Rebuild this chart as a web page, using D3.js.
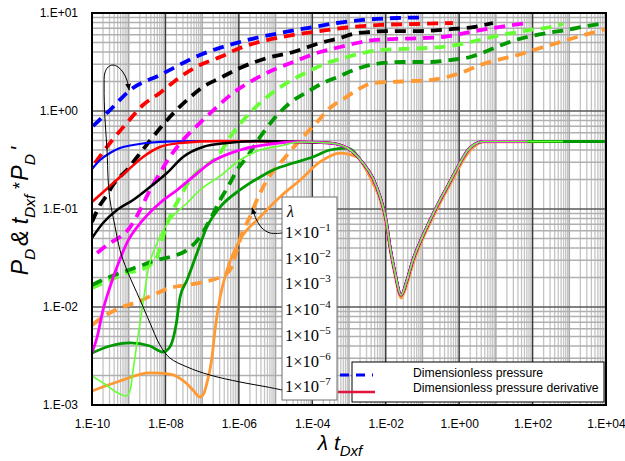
<!DOCTYPE html>
<html><head><meta charset="utf-8">
<script src="https://cdn.jsdelivr.net/npm/d3@7"></script>
<style>body{margin:0;background:#fff}svg{display:block}</style>
</head><body>
<svg id="chart" width="625" height="461"></svg>
<script>
// ---- DATA : points are [log10(lambda*tDxf), log10(value)] ----
const xTickExp = [-10, -8, -6, -4, -2, 0, 2, 4];
const yTickExp = [-3, -2, -1, 0, 1];
const lambdaExp = [-1, -2, -3, -4, -5, -6, -7];
const legendNames = ["Dimensionless pressure", "Dimensionless pressure derivative"];

// Dimensionless pressure (dashed), one array per lambda
const pL1 = [[-9.97,-0.153],[-9.51,0.01],[-8.96,0.214],[-8.15,0.367],[-7.06,0.571],[-5.97,0.704],[-4.88,0.796],[-3.98,0.857],[-3.33,0.898],[-2.62,0.929],[-1.69,0.949],[-1.07,0.954]];
const pL2 = [[-9.92,-0.531],[-9.51,-0.327],[-9.05,-0.122],[-8.61,0.061],[-8.15,0.184],[-7.60,0.347],[-7.06,0.469],[-6.51,0.551],[-5.97,0.643],[-5.23,0.724],[-4.52,0.776],[-3.79,0.816],[-3.05,0.852],[-2.15,0.878],[-1.15,0.888],[-0.17,0.898]];
const pL3 = [[-10,-1.133],[-9.78,-0.959],[-9.59,-0.857],[-9.43,-0.755],[-9.24,-0.673],[-9.05,-0.602],[-8.77,-0.469],[-8.34,-0.265],[-7.88,-0.061],[-7.41,0.112],[-6.98,0.245],[-6.51,0.337],[-5.97,0.439],[-5.23,0.541],[-4.52,0.602],[-3.79,0.694],[-3.24,0.745],[-2.89,0.786],[-2.43,0.806],[-1.96,0.816],[-1.07,0.816],[-0.17,0.837],[0.38,0.857],[0.92,0.898]];
const pL4 = [[-9.86,-1.449],[-9.51,-1.347],[-9.24,-1.286],[-8.96,-1.184],[-8.69,-1.010],[-8.42,-0.806],[-8.15,-0.633],[-7.88,-0.469],[-7.52,-0.296],[-7.06,-0.122],[-6.60,0.041],[-6.16,0.184],[-5.61,0.316],[-5.07,0.418],[-4.52,0.5],[-3.79,0.602],[-3.24,0.653],[-2.78,0.694],[-2.35,0.724],[-1.69,0.735],[-0.98,0.745],[-0.44,0.755],[0.30,0.806],[0.92,0.847],[1.47,0.878],[1.85,0.898]];
const pL5 = [[-10,-1.806],[-9.51,-1.724],[-9.05,-1.653],[-8.69,-1.622],[-8.42,-1.571],[-8.23,-1.490],[-8.07,-1.286],[-7.88,-1.082],[-7.60,-0.878],[-7.33,-0.704],[-7.06,-0.602],[-6.60,-0.469],[-6.16,-0.224],[-5.70,-0.020],[-5.23,0.143],[-4.69,0.286],[-4.14,0.398],[-3.60,0.490],[-3.05,0.551],[-2.62,0.592],[-2.15,0.622],[-1.53,0.633],[-0.87,0.643],[-0.25,0.663],[0.30,0.704],[0.76,0.745],[1.30,0.786],[1.93,0.827],[2.48,0.857],[2.83,0.888]];
const pL6 = [[-10,-1.776],[-9.59,-1.704],[-9.16,-1.643],[-8.77,-1.592],[-8.23,-1.520],[-7.88,-1.490],[-7.41,-1.418],[-7.06,-1.286],[-6.79,-1.112],[-6.51,-0.908],[-6.24,-0.735],[-6.05,-0.602],[-5.78,-0.469],[-5.42,-0.265],[-5.07,-0.092],[-4.61,0.082],[-4.14,0.194],[-3.71,0.286],[-3.24,0.357],[-3.05,0.390],[-2.62,0.449],[-2.07,0.490],[-1.53,0.5],[-0.79,0.5],[-0.25,0.520],[0.30,0.551],[0.76,0.612],[1.30,0.694],[1.85,0.755],[2.39,0.796],[2.94,0.827],[3.48,0.867],[4.0,0.898]];
const pL7 = [[-10,-2.184],[-9.70,-2.102],[-9.24,-2.010],[-8.77,-1.949],[-8.34,-1.878],[-7.88,-1.806],[-7.41,-1.776],[-6.98,-1.745],[-6.51,-1.694],[-6.24,-1.622],[-6.05,-1.418],[-5.91,-1.245],[-5.70,-1.082],[-5.51,-0.908],[-5.23,-0.704],[-4.80,-0.5],[-4.33,-0.296],[-3.87,-0.112],[-3.52,0.031],[-3.11,0.133],[-2.78,0.214],[-2.35,0.286],[-1.88,0.296],[-1.26,0.306],[-0.79,0.316],[-0.33,0.347],[0.11,0.398],[0.57,0.469],[1.03,0.520],[1.58,0.571],[2.12,0.633],[2.67,0.694],[3.21,0.755],[4.0,0.837]];

// Dimensionless pressure derivative (solid): early part per lambda + common late part
const dL1 = [[-10,-0.592],[-9.78,-0.5],[-9.51,-0.429],[-9.24,-0.378],[-8.88,-0.347],[-8.15,-0.316],[-7.06,-0.306]];
const dL2 = [[-10,-0.929],[-9.51,-0.765],[-9.02,-0.602],[-8.61,-0.469],[-8.15,-0.367],[-7.60,-0.327],[-6.51,-0.306]];
const dL3 = [[-10,-1.296],[-9.70,-1.143],[-9.32,-1.010],[-8.88,-0.908],[-8.42,-0.776],[-7.96,-0.633],[-7.52,-0.469],[-6.98,-0.367],[-6.32,-0.327],[-5.42,-0.306]];
const dL4 = [[-10,-2.469],[-9.86,-2.306],[-9.70,-2.031],[-9.51,-1.796],[-9.32,-1.592],[-9.05,-1.347],[-8.61,-1.112],[-8.15,-0.939],[-7.68,-0.806],[-7.25,-0.673],[-6.79,-0.531],[-5.97,-0.398],[-5.15,-0.337]];
const dL5 = [[-10,-2.704],[-9.65,-2.786],[-9.29,-2.878],[-9.07,-2.908],[-8.96,-2.847],[-8.88,-2.643],[-8.75,-2.306],[-8.61,-1.959],[-8.47,-1.622],[-8.23,-1.347],[-7.88,-1.112],[-7.41,-0.939],[-7.06,-0.806],[-6.51,-0.663],[-5.97,-0.5],[-5.42,-0.398],[-4.88,-0.357]];
const dL6 = [[-10,-2.469],[-9.51,-2.398],[-8.96,-2.367],[-8.42,-2.398],[-8.07,-2.459],[-7.88,-2.408],[-7.71,-2.184],[-7.60,-1.898],[-7.41,-1.724],[-7.14,-1.449],[-6.87,-1.184],[-6.51,-0.980],[-5.97,-0.806],[-5.42,-0.673],[-5.07,-0.602],[-4.52,-0.531],[-3.98,-0.469],[-3.52,-0.398]];
const dL7 = [[-10,-2.857],[-9.24,-2.755],[-8.42,-2.673],[-7.88,-2.684],[-7.47,-2.765],[-7.25,-2.847],[-7.06,-2.918],[-6.95,-2.878],[-6.87,-2.776],[-6.73,-2.510],[-6.65,-2.235],[-6.51,-1.898],[-6.32,-1.622],[-5.97,-1.316],[-5.42,-1.082],[-4.88,-0.878],[-4.33,-0.704],[-3.79,-0.520],[-3.24,-0.429],[-2.78,-0.469],[-2.56,-0.582],[-2.35,-0.735],[-2.15,-0.908],[-1.99,-1.153],[-1.88,-1.418],[-1.75,-1.673],[-1.58,-1.908],[-1.42,-1.765],[-1.26,-1.561],[-1.04,-1.347],[-0.79,-1.143],[-0.52,-0.939],[-0.33,-0.806],[-0.11,-0.653],[0.02,-0.561],[0.24,-0.429],[0.43,-0.357],[0.65,-0.316],[4.0,-0.311]];
const dTail = [[-4.33,-0.316],[-3.52,-0.327],[-3.05,-0.378],[-2.62,-0.531],[-2.35,-0.684],[-2.15,-0.878],[-1.99,-1.112],[-1.88,-1.388],[-1.75,-1.643],[-1.58,-1.878],[-1.42,-1.724],[-1.26,-1.520],[-1.04,-1.316],[-0.79,-1.112],[-0.52,-0.908],[-0.33,-0.776],[-0.11,-0.622],[0.02,-0.531],[0.24,-0.398],[0.43,-0.337],[0.65,-0.311],[4.0,-0.311]];

// leader lines of the lambda note
const noteLong = [[-4.82,-2.847],[-5.23,-2.816],[-5.97,-2.765],[-6.79,-2.694],[-7.41,-2.612],[-7.88,-2.520],[-8.15,-2.388],[-8.42,-2.163],[-8.69,-1.929],[-9.05,-1.622],[-9.24,-1.418],[-9.37,-1.184],[-9.51,-0.908],[-9.56,-0.704],[-9.59,-0.398],[-9.65,-0.061],[-9.67,0.245],[-9.65,0.388],[-9.56,0.449],[-9.43,0.469],[-9.29,0.449],[-9.16,0.398],[-9.05,0.316],[-8.99,0.214]];
const noteShort = [[-4.82,-1.245],[-5.15,-1.245],[-5.37,-1.194],[-5.53,-1.102],[-5.64,-0.990]];

// ---- STYLE ----
const colors = ["#0000ff","#ff0000","#000000","#ff00ff","#66ff33","#009900","#ff9933"];
const derivWidths = [2.2,2.5,2.5,2.8,1.6,2.8,2.8];
const pressures = [pL1,pL2,pL3,pL4,pL5,pL6,pL7];
const derivEarly = [dL1,dL2,dL3,dL4,dL5,dL6,dL7];

const svg = d3.select("#chart");
const W = 625, H = 461;
const m = {l:92, r:19, t:13, b:56};
const x = d3.scaleLog().domain([1e-10,1e4]).range([m.l, W-m.r]);
const y = d3.scaleLog().domain([1e-3,1e1]).range([H-m.b, m.t]);
const P = v => Math.pow(10, v);

const defs = svg.append("defs");
defs.append("clipPath").attr("id","plot").append("rect")
  .attr("x",m.l).attr("y",m.t).attr("width",W-m.l-m.r).attr("height",H-m.t-m.b);
defs.append("marker").attr("id","arr").attr("viewBox","0 0 10 10").attr("refX",9).attr("refY",5)
  .attr("markerWidth",7).attr("markerHeight",7).attr("orient","auto")
  .append("path").attr("d","M0,1 L10,5 L0,9 Z").attr("fill","#000");

// grid
const grid = svg.append("g");
const xMinor = [], yMinor = [];
for (let e=-10; e<4; e++) for (let k=2; k<10; k++) xMinor.push(k*P(e));
for (let e=-3; e<1; e++) for (let k=2; k<10; k++) yMinor.push(k*P(e));
grid.selectAll(".vm").data(xMinor).join("line")
  .attr("x1",d=>x(d)).attr("x2",d=>x(d)).attr("y1",m.t).attr("y2",H-m.b)
  .attr("stroke","#c4c4c4").attr("stroke-width",1.3);
grid.selectAll(".hm").data(yMinor).join("line")
  .attr("y1",d=>y(d)).attr("y2",d=>y(d)).attr("x1",m.l).attr("x2",W-m.r)
  .attr("stroke","#b0b0b0").attr("stroke-width",1.4);
const xDec = d3.range(-10,5);
grid.selectAll(".vd").data(xDec).join("line")
  .attr("x1",d=>x(P(d))).attr("x2",d=>x(P(d))).attr("y1",m.t).attr("y2",H-m.b)
  .attr("stroke",d=> d%2===0 ? "#3a3a3a" : "#a8a8a8").attr("stroke-width",1.5);
grid.selectAll(".hd").data(yTickExp).join("line")
  .attr("y1",d=>y(P(d))).attr("y2",d=>y(P(d))).attr("x1",m.l).attr("x2",W-m.r)
  .attr("stroke","#595959").attr("stroke-width",1.6);

// tick labels
const fmt = e => "1.E" + (e<0?"-":"+") + String(Math.abs(e)).padStart(2,"0");
const ax = svg.append("g").attr("transform",`translate(0,${H-m.b})`)
  .call(d3.axisBottom(x).tickValues(xTickExp.map(P)).tickFormat(d=>fmt(Math.round(Math.log10(d)))).tickSize(0).tickPadding(14));
const ay = svg.append("g").attr("transform",`translate(${m.l},0)`)
  .call(d3.axisLeft(y).tickValues(yTickExp.map(P)).tickFormat(d=>fmt(Math.round(Math.log10(d)))).tickSize(0).tickPadding(14));
[ax,ay].forEach(g=>{g.select(".domain").remove(); g.selectAll("text").attr("font-family","Liberation Sans, Arial, sans-serif").attr("font-size",12).attr("fill","#000");});

// curves
const line = d3.line().x(d=>x(P(d[0]))).y(d=>y(P(d[1]))).curve(d3.curveMonotoneX);
const plot = svg.append("g").attr("clip-path","url(#plot)");
pressures.forEach((pts,i)=>{
  plot.append("path").attr("d",line(pts)).attr("fill","none").attr("stroke",colors[i])
    .attr("stroke-width",3.8).attr("stroke-dasharray","11,7");
});
// derivative curves: each ends where its pressure curve ends
const derivOrder = [6,5,0,1,2,3,4];
derivOrder.forEach(i=>{
  const endX = pressures[i][pressures[i].length-1][0];
  const early = derivEarly[i];
  const lastX = early[early.length-1][0];
  const pts = i===6 ? early : early.concat(dTail.filter(p=>p[0]>lastX));
  const cid = "dc"+i;
  defs.append("clipPath").attr("id",cid).append("rect")
    .attr("x",m.l).attr("y",m.t).attr("width",x(P(endX))-m.l).attr("height",H-m.t-m.b);
  plot.append("g").attr("clip-path",`url(#${cid})`).append("path").attr("d",line(pts))
    .attr("fill","none").attr("stroke",colors[i]).attr("stroke-width",derivWidths[i]);
});

// frame
svg.append("rect").attr("x",m.l).attr("y",m.t).attr("width",W-m.l-m.r).attr("height",H-m.t-m.b)
  .attr("fill","none").attr("stroke","#000").attr("stroke-width",2);

// lambda note box
const bx = 282, by = 197, bw = 55, bh = 203;
svg.append("rect").attr("x",bx).attr("y",by).attr("width",bw).attr("height",bh)
  .attr("fill","#fff").attr("stroke","#6e6e6e").attr("stroke-width",1);
svg.append("text").attr("x",bx+5).attr("y",by+20).attr("font-family","Liberation Serif, Times New Roman, serif")
  .attr("font-style","italic").attr("font-size",16).text("λ");
lambdaExp.forEach((e,i)=>{
  const t = svg.append("text").attr("x",bx+3).attr("y",by+41+i*25.7)
    .attr("font-family","Liberation Serif, Times New Roman, serif").attr("font-size",16.5);
  t.append("tspan").text("1×10");
  t.append("tspan").attr("dy",-7).attr("font-size",11).text("−" + Math.abs(e));
});

// leader lines
const nline = d3.line().x(d=>x(P(d[0]))).y(d=>y(P(d[1]))).curve(d3.curveCatmullRom.alpha(0.5));
svg.append("path").attr("d",nline(noteLong)).attr("fill","none").attr("stroke","#000").attr("stroke-width",1).attr("marker-end","url(#arr)");
svg.append("path").attr("d",nline(noteShort)).attr("fill","none").attr("stroke","#000").attr("stroke-width",1).attr("marker-end","url(#arr)");

// series legend
const lx = 352, ly = 362;
svg.append("rect").attr("x",lx).attr("y",ly).attr("width",252).attr("height",40)
  .attr("fill","#fff").attr("stroke","#000").attr("stroke-width",1);
svg.append("line").attr("x1",338).attr("x2",373).attr("y1",375).attr("y2",375)
  .attr("stroke","#0000ff").attr("stroke-width",3).attr("stroke-dasharray","9,7").attr("stroke-dashoffset",-2);
svg.append("line").attr("x1",338).attr("x2",375).attr("y1",392).attr("y2",392)
  .attr("stroke","#e0143c").attr("stroke-width",2.5);
legendNames.forEach((n,i)=>{
  svg.append("text").attr("x",413).attr("y",377+i*15).attr("font-family","Liberation Sans, Arial, sans-serif")
    .attr("font-size",12.2).text(n);
});

// axis titles
const xt = svg.append("text").attr("x",340).attr("y",450).attr("text-anchor","middle")
  .attr("font-family","Liberation Sans, Arial, sans-serif").attr("font-style","italic").attr("font-size",21);
xt.append("tspan").text("λ t");
xt.append("tspan").attr("dy",6).attr("font-size",15).text("Dxf");

const yt = svg.append("text").attr("transform","translate(28,211) rotate(-90)").attr("text-anchor","middle")
  .attr("font-family","Liberation Sans, Arial, sans-serif").attr("font-style","italic").attr("font-size",23);
yt.append("tspan").text("P");
yt.append("tspan").attr("dy",7).attr("font-size",15.5).text("D");
yt.append("tspan").attr("dy",-7).attr("dx",3).text("&");
yt.append("tspan").attr("dx",6).text("t");
yt.append("tspan").attr("dy",7).attr("font-size",15.5).text("Dxf");
yt.append("tspan").attr("dy",-9).attr("dx",5).attr("font-size",18).text("*");
yt.append("tspan").attr("dy",2).attr("dx",2).text("P");
yt.append("tspan").attr("dy",7).attr("font-size",15.5).text("D");
yt.append("tspan").attr("dy",-7).attr("dx",3).text("'");
</script>
</body></html>
